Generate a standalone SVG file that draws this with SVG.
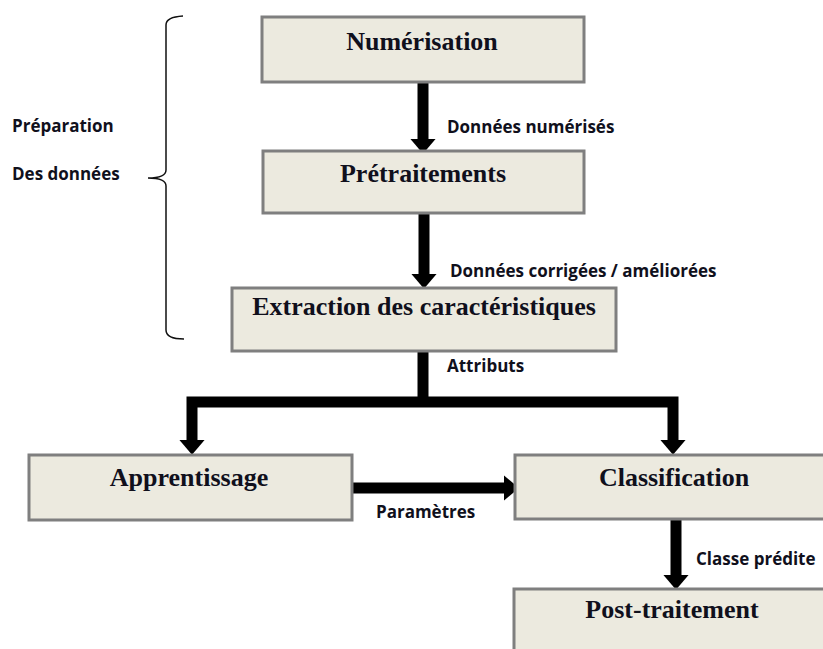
<svg xmlns="http://www.w3.org/2000/svg" width="823" height="649" viewBox="0 0 823 649">
<defs>
<style>
.box{fill:#ECEADF;stroke:#7F7F7F;stroke-width:3}
.t{font-family:"Liberation Serif","Times New Roman",serif;font-weight:bold;font-size:26px;fill:#10101c;text-anchor:middle}
.l{font-family:"Open Sans","Liberation Sans",Arial,sans-serif;font-weight:bold;font-size:17px;fill:#10101c}
.c{fill:none;stroke:#000;stroke-width:11;stroke-linejoin:miter}
.br{fill:none;stroke:#111;stroke-width:1.5}
</style>
<marker id="ah" markerUnits="userSpaceOnUse" markerWidth="16" markerHeight="26" refX="0" refY="11" orient="auto" viewBox="0 0 14 22">
<path d="M0,0 L13,11 L0,22 z" fill="#000"/>
</marker>
</defs>
<rect width="823" height="649" fill="#fff"/>

<g id="brace">
<path class="br" d="M183,16 Q166,17 166,25 V170 Q166,178 148,178 Q166,178 166,186 V330 Q166,339 184,339"/>
</g>
<g id="label-preparation">
<text class="l" x="12" y="132">Préparation</text>
<text class="l" x="12" y="180">Des données</text>
</g>

<g id="connectors">
<path class="c" marker-end="url(#ah)" d="M423,82 V139"/>
<path class="c" marker-end="url(#ah)" d="M424,213 V274"/>
<path class="c" d="M423,351 V402"/>
<path class="c" marker-end="url(#ah)" d="M423,402 H192 V440"/>
<path class="c" marker-end="url(#ah)" d="M423,402 H673 V440"/>
<path class="c" marker-end="url(#ah)" d="M352,488 H504"/>
<path class="c" marker-end="url(#ah)" d="M676,519 V575"/>
<text class="l" x="447" y="133">Données numérisés</text>
<text class="l" x="450" y="277">Données corrigées / améliorées</text>
<text class="l" x="447" y="372">Attributs</text>
<text class="l" x="376" y="518">Paramètres</text>
<text class="l" x="696" y="565">Classe prédite</text>
</g>

<g id="numerisation">
<rect class="box" x="262" y="17" width="322" height="65"/>
<text class="t" x="422" y="50">Numérisation</text>
</g>
<g id="pretraitements">
<rect class="box" x="263" y="151" width="321" height="62"/>
<text class="t" x="423" y="182">Prétraitements</text>
</g>
<g id="extraction">
<rect class="box" x="232" y="288" width="384" height="63"/>
<text class="t" x="424" y="315">Extraction des caractéristiques</text>
</g>
<g id="apprentissage">
<rect class="box" x="29" y="455" width="323" height="65"/>
<text class="t" x="189" y="486">Apprentissage</text>
</g>
<g id="classification">
<rect class="box" x="515" y="455" width="312" height="64"/>
<text class="t" x="674" y="486">Classification</text>
</g>
<g id="post-traitement">
<rect class="box" x="514" y="589" width="312" height="70"/>
<text class="t" x="672" y="618">Post-traitement</text>
</g>
</svg>
